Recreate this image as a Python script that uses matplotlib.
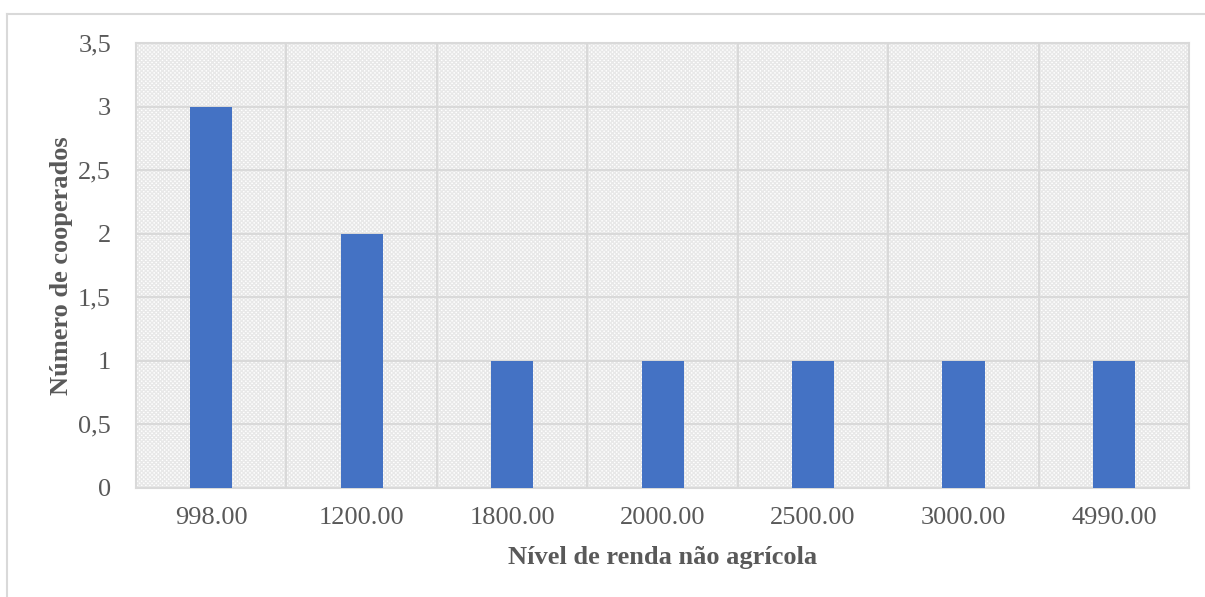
import matplotlib
matplotlib.use("Agg")
from matplotlib import pyplot as plt
from matplotlib.lines import Line2D
from matplotlib.patches import Rectangle
import numpy as np

categorias = ["998.00", "1200.00", "1800.00", "2000.00", "2500.00", "3000.00", "4990.00"]
cooperados = [3, 2, 1, 1, 1, 1, 1]
y_ticks = [0, 0.5, 1, 1.5, 2, 2.5, 3, 3.5]
y_labels = ["0", "0,5", "1", "1,5", "2", "2,5", "3", "3,5"]

plt.rcParams["font.family"] = ["Liberation Serif", "DejaVu Serif"]
plt.rcParams["hatch.linewidth"] = 1.0

grid_col = "#d9d9d9"
text_col = "#595959"

fig = plt.figure(figsize=(12.05, 5.97), dpi=100)
ax = fig.add_axes([0.1129, 0.1826, 0.8739, 0.7454])

# outer chart frame (cut at right and bottom)
fig.add_artist(Line2D([7 / 1205, 1], [1 - 14 / 597] * 2, color=grid_col, lw=1.5))
fig.add_artist(Line2D([7 / 1205] * 2, [0, 1 - 14 / 597], color=grid_col, lw=1.5))

# textured plot background
ax.add_patch(Rectangle((0, 0), 1, 1, transform=ax.transAxes, facecolor="white",
                       edgecolor="#e8e8e8", lw=0, hatch="xxxxxxxx", zorder=0))

x = np.arange(len(categorias))
ax.bar(x, cooperados, width=0.28, color="#4472C4", zorder=3)

ax.set_xlim(-0.5, len(categorias) - 0.5)
ax.set_ylim(0, 3.5)
ax.set_yticks(y_ticks)
ax.set_yticklabels(y_labels)
ax.set_xticks(x)
ax.set_xticklabels(categorias)
ax.set_xticks(np.arange(len(categorias) + 1) - 0.5, minor=True)

ax.grid(axis="y", which="major", color=grid_col, lw=1.5, zorder=1)
ax.grid(axis="x", which="minor", color=grid_col, lw=1.5, zorder=1)
ax.set_axisbelow(True)
for s in ax.spines.values():
    s.set_color(grid_col)
    s.set_linewidth(1.5)

ax.tick_params(axis="both", which="both", length=0, colors=text_col, labelsize=19)
ax.tick_params(axis="y", pad=18)
ax.tick_params(axis="x", pad=14)

ax.set_xlabel("Nível de renda não agrícola", fontsize=19, fontweight="bold",
              color=text_col, labelpad=12)
ax.set_ylabel("Número de cooperados", fontsize=19, fontweight="bold",
              color=text_col)
ax.yaxis.set_label_coords(-0.060, 0.5)

fig.savefig("out.png", dpi=100)
